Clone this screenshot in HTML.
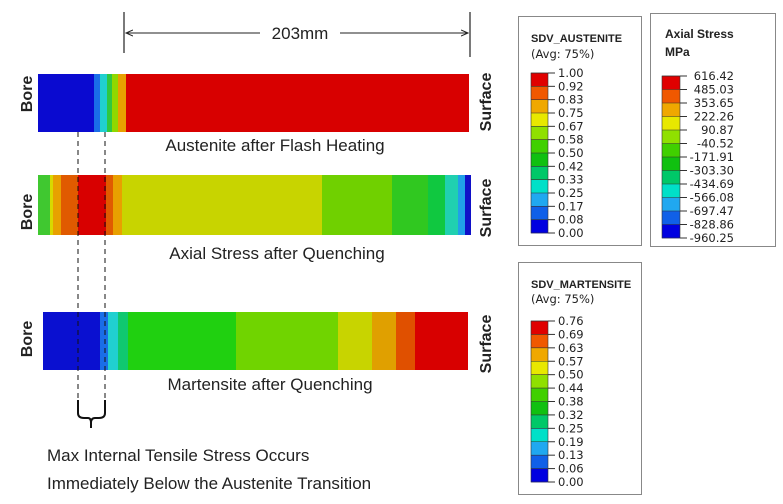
<!DOCTYPE html>
<html><head><meta charset="utf-8"><style>
html,body{margin:0;padding:0;background:#fff;}
svg{display:block;}
text{font-family:"Liberation Sans",sans-serif;}
.cap{font-size:17px;fill:#222;}
.lg{font-size:11.5px;fill:#222;font-family:"DejaVu Sans",sans-serif;}
.lt{font-size:11px;fill:#222;font-weight:bold;font-family:"Liberation Sans",sans-serif;}
.lt2{font-size:11.5px;fill:#222;font-family:"DejaVu Sans",sans-serif;}
</style></head><body>
<svg width="783" height="504" viewBox="0 0 783 504" xmlns="http://www.w3.org/2000/svg">
<defs><marker id="ar" markerWidth="8" markerHeight="8" refX="7" refY="4" orient="auto"><path d="M0,1 L7,4 L0,7" fill="none" stroke="#222" stroke-width="1"/></marker></defs>
<line x1="124" y1="12" x2="124" y2="53" stroke="#222" stroke-width="1.2"/>
<line x1="470" y1="12" x2="470" y2="57" stroke="#222" stroke-width="1.2"/>
<line x1="260" y1="33" x2="126" y2="33" stroke="#222" stroke-width="1" marker-end="url(#ar)"/>
<line x1="340" y1="33" x2="468" y2="33" stroke="#222" stroke-width="1" marker-end="url(#ar)"/>
<text x="300" y="39" class="cap" text-anchor="middle">203mm</text>

<g>
<rect x="38" y="74" width="431" height="58" fill="#d80000"/>
<rect x="38" y="74" width="56" height="58" fill="#0a0ad0"/>
<rect x="94" y="74" width="6" height="58" fill="#1a6ee8"/>
<rect x="100" y="74" width="7" height="58" fill="#20d0d0"/>
<rect x="107" y="74" width="5" height="58" fill="#30c840"/>
<rect x="112" y="74" width="6" height="58" fill="#90d800"/>
<rect x="118" y="74" width="8" height="58" fill="#e8a000"/>
</g>
<text class="cap" text-anchor="middle" x="275" y="151">Austenite after Flash Heating</text>

<g>
<rect x="38" y="175" width="433" height="60" fill="#c8d400"/>
<rect x="38" y="175" width="12" height="60" fill="#40c830"/>
<rect x="50" y="175" width="3" height="60" fill="#d8d800"/>
<rect x="53" y="175" width="8" height="60" fill="#e8a000"/>
<rect x="61" y="175" width="17" height="60" fill="#e05a00"/>
<rect x="78" y="175" width="28" height="60" fill="#d80000"/>
<rect x="106" y="175" width="7" height="60" fill="#e05a00"/>
<rect x="113" y="175" width="9" height="60" fill="#e8a000"/>
<rect x="322" y="175" width="70" height="60" fill="#70d000"/>
<rect x="392" y="175" width="36" height="60" fill="#30c820"/>
<rect x="428" y="175" width="17" height="60" fill="#10c840"/>
<rect x="445" y="175" width="13" height="60" fill="#20d0b0"/>
<rect x="458" y="175" width="7" height="60" fill="#20a0e8"/>
<rect x="465" y="175" width="6" height="60" fill="#1010c8"/>
</g>
<text class="cap" text-anchor="middle" x="277" y="259">Axial Stress after Quenching</text>

<g>
<rect x="43" y="312" width="425" height="58" fill="#d80000"/>
<rect x="43" y="312" width="57" height="58" fill="#0a10d0"/>
<rect x="100" y="312" width="8" height="58" fill="#1a6ee8"/>
<rect x="108" y="312" width="10" height="58" fill="#20d0d0"/>
<rect x="118" y="312" width="10" height="58" fill="#10c870"/>
<rect x="128" y="312" width="108" height="58" fill="#20d010"/>
<rect x="236" y="312" width="102" height="58" fill="#70d400"/>
<rect x="338" y="312" width="34" height="58" fill="#c8d400"/>
<rect x="372" y="312" width="24" height="58" fill="#e0a000"/>
<rect x="396" y="312" width="19" height="58" fill="#e05000"/>
</g>
<text class="cap" text-anchor="middle" x="270" y="390">Martensite after Quenching</text>

<g class="cap" style="font-weight:bold;font-size:16px">
<text transform="translate(32,94) rotate(-90)" text-anchor="middle">Bore</text>
<text transform="translate(32,212) rotate(-90)" text-anchor="middle">Bore</text>
<text transform="translate(32,339) rotate(-90)" text-anchor="middle">Bore</text>
<text transform="translate(491,102) rotate(-90)" text-anchor="middle">Surface</text>
<text transform="translate(491,208) rotate(-90)" text-anchor="middle">Surface</text>
<text transform="translate(491,344) rotate(-90)" text-anchor="middle">Surface</text>
</g>

<line x1="78" y1="132" x2="78" y2="410" stroke="#111" stroke-width="1" stroke-dasharray="5,4"/>
<line x1="105" y1="132" x2="105" y2="410" stroke="#111" stroke-width="1" stroke-dasharray="5,4"/>
<path d="M78,400 L78,413 Q78,418 84,418 L88,418 Q91,418 91,423 L91,428 M91,423 Q91,418 95,418 L99,418 Q105,418 105,413 L105,400" fill="none" stroke="#111" stroke-width="2"/>
<text class="cap" x="47" y="461">Max Internal Tensile Stress Occurs</text>
<text class="cap" x="47" y="489">Immediately Below the Austenite Transition</text>

<rect x="518.5" y="16.5" width="123" height="229" fill="#fff" stroke="#888"/>
<text class="lt" x="531" y="42">SDV_AUSTENITE</text>
<text class="lt2" x="531" y="58">(Avg: 75%)</text>
<rect x="650.5" y="13.5" width="125" height="233" fill="#fff" stroke="#888"/>
<text class="lt" x="665" y="38" style="font-size:12px">Axial Stress</text>
<text class="lt" x="665" y="56" style="font-size:12px">MPa</text>
<rect x="518.5" y="262.5" width="123" height="232" fill="#fff" stroke="#888"/>
<text class="lt" x="531" y="288">SDV_MARTENSITE</text>
<text class="lt2" x="531" y="303">(Avg: 75%)</text>
</svg>
<script>
(function(){
var band=["#e00000","#f05800","#f0a800","#e8e800","#90e000","#40d000","#10c010","#00c868","#00e0c8","#20a8f0","#1060e8","#0000e0"];
var svg=document.querySelector('svg');var ns="http://www.w3.org/2000/svg";
function leg(x,y0,y1,w,labels,lx,anchor){
 var h=(y1-y0)/12;
 for(var i=0;i<12;i++){var r=document.createElementNS(ns,'rect');r.setAttribute('x',x);r.setAttribute('y',y0+i*h);r.setAttribute('width',w);r.setAttribute('height',h+0.3);r.setAttribute('fill',band[i]);svg.appendChild(r);
  var l=document.createElementNS(ns,'line');l.setAttribute('x1',x);l.setAttribute('x2',x+w);l.setAttribute('y1',y0+i*h);l.setAttribute('y2',y0+i*h);l.setAttribute('stroke','#333');l.setAttribute('stroke-width','0.6');svg.appendChild(l);}
 var b=document.createElementNS(ns,'rect');b.setAttribute('x',x);b.setAttribute('y',y0);b.setAttribute('width',w);b.setAttribute('height',y1-y0);b.setAttribute('fill','none');b.setAttribute('stroke','#333');b.setAttribute('stroke-width','0.6');svg.appendChild(b);
 for(var j=0;j<13;j++){var yy=y0+j*h;var t=document.createElementNS(ns,'line');t.setAttribute('x1',x+w);t.setAttribute('x2',x+w+7);t.setAttribute('y1',yy);t.setAttribute('y2',yy);t.setAttribute('stroke','#333');svg.appendChild(t);
  var tx=document.createElementNS(ns,'text');tx.setAttribute('x',lx);tx.setAttribute('y',yy+4);tx.setAttribute('class','lg');tx.setAttribute('text-anchor',anchor);tx.textContent=labels[j];svg.appendChild(tx);}
}
leg(531,73,233,17,["1.00","0.92","0.83","0.75","0.67","0.58","0.50","0.42","0.33","0.25","0.17","0.08","0.00"],558,"start");
leg(662,76,238,18,["616.42","485.03","353.65","222.26","90.87","-40.52","-171.91","-303.30","-434.69","-566.08","-697.47","-828.86","-960.25"],734,"end");
leg(531,321,482,17,["0.76","0.69","0.63","0.57","0.50","0.44","0.38","0.32","0.25","0.19","0.13","0.06","0.00"],558,"start");
})();
</script>
</body></html>
